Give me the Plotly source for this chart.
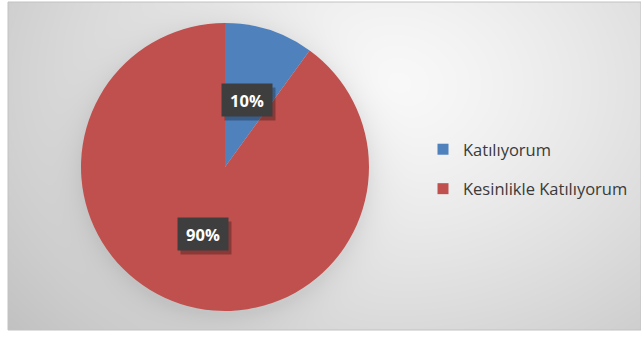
import numpy as np
import plotly.graph_objects as go

# Survey answers and their shares
labels = ["Katılıyorum", "Kesinlikle Katılıyorum"]
values = [10, 90]
colors = ["#4F81BD", "#C0504D"]

W, H = 641, 338
# pie placement in pixels
CX, CY, R = 225, 167, 144
# chart-area frame in pixels
FX0, FY0, FX1, FY1 = 8, 2, 641, 330

# radial grey backdrop with a soft shadow under the pie
nx, ny = 160, 84
dx = (FX1 - FX0) / nx
dy = (FY1 - FY0) / ny
xs = FX0 + dx * (np.arange(nx) + 0.5)
ys = FY0 + dy * (np.arange(ny) + 0.5)
X, Y = np.meshgrid(xs, ys)
d = np.sqrt(((X - 390) / 390) ** 2 + ((Y - 85) / 300) ** 2)
bright = 0.975 - 0.16 * d ** 1.3
rr = np.sqrt((X - CX) ** 2 + (Y - CY - 4) ** 2)
bright -= np.where(rr > R, 0.07 * np.exp(-(rr - R) / 14.0), 0.07)
bright = np.clip(bright, 0, 1)

fig = go.Figure()
fig.add_trace(go.Heatmap(
    x=xs, y=ys, z=bright, zmin=0, zmax=1,
    colorscale=[[0, "#000000"], [1, "#ffffff"]],
    showscale=False, zsmooth="best", hoverinfo="skip",
))

fig.add_trace(go.Pie(
    labels=labels, values=values, sort=False, direction="clockwise",
    rotation=0, marker=dict(colors=colors, line=dict(width=0)),
    textinfo="none", showlegend=False,
    domain=dict(x=[(CX - R) / W, (CX + R) / W],
                y=[1 - (CY + R) / H, 1 - (CY - R) / H]),
))

# legend entries
for i, (lab, col) in enumerate(zip(labels, colors)):
    fig.add_trace(go.Scatter(
        x=[None], y=[None], mode="markers", name=lab, legendgroup=f"g{i}",
        marker=dict(symbol="square", size=11, color=col),
    ))

# percentage labels in dark boxes, placed at mid-angle of each slice
total = sum(values)
cum = 0
annotations = []
for v in values:
    mid = (cum + v / 2) / total * 2 * np.pi
    cum += v
    px = CX + 0.49 * R * np.sin(mid)
    py = CY - 0.49 * R * np.cos(mid)
    txt = f"{round(100 * v / total)}%"
    common = dict(x=px / W, y=1 - py / H, xref="paper", yref="paper",
                  xanchor="center", yanchor="middle",
                  showarrow=False, width=50, height=32, borderpad=0)
    annotations.append(dict(text="", bgcolor="rgba(0,0,0,0.28)",
                            xshift=3, yshift=-4, **common))
    annotations.append(dict(text=f"<b>{txt}</b>", bgcolor="#3e3e3e",
                            font=dict(family="Open Sans", size=16.5,
                                      color="#ffffff"),
                            **common))

shapes = [
    dict(type="rect", xref="paper", yref="paper",
         x0=FX0 / W, x1=FX1 / W, y0=1 - FY1 / H, y1=1 - FY0 / H,
         line=dict(color="#c2c2c2", width=1), fillcolor="rgba(0,0,0,0)",
         layer="above"),
    dict(type="rect", xref="paper", yref="paper",
         x0=437 / W, x1=641 / W, y0=1 - 203 / H, y1=1 - 133 / H,
         line=dict(width=0), fillcolor="rgba(255,255,255,0.42)", layer="below"),
]

fig.update_layout(
    width=W, height=H, margin=dict(l=0, r=0, t=0, b=0),
    paper_bgcolor="#ffffff", plot_bgcolor="#ffffff",
    xaxis=dict(range=[0, W], visible=False, domain=[0, 1], fixedrange=True),
    yaxis=dict(range=[H, 0], visible=False, domain=[0, 1], fixedrange=True),
    showlegend=True,
    legend=dict(x=423 / W, xanchor="left", y=1 - 132 / H, yanchor="top",
                bgcolor="rgba(0,0,0,0)", traceorder="grouped",
                tracegroupgap=15,
                font=dict(family="Open Sans", size=16.5, color="#3a3a3a")),
    annotations=annotations, shapes=shapes,
)

fig.write_html("out.html")
